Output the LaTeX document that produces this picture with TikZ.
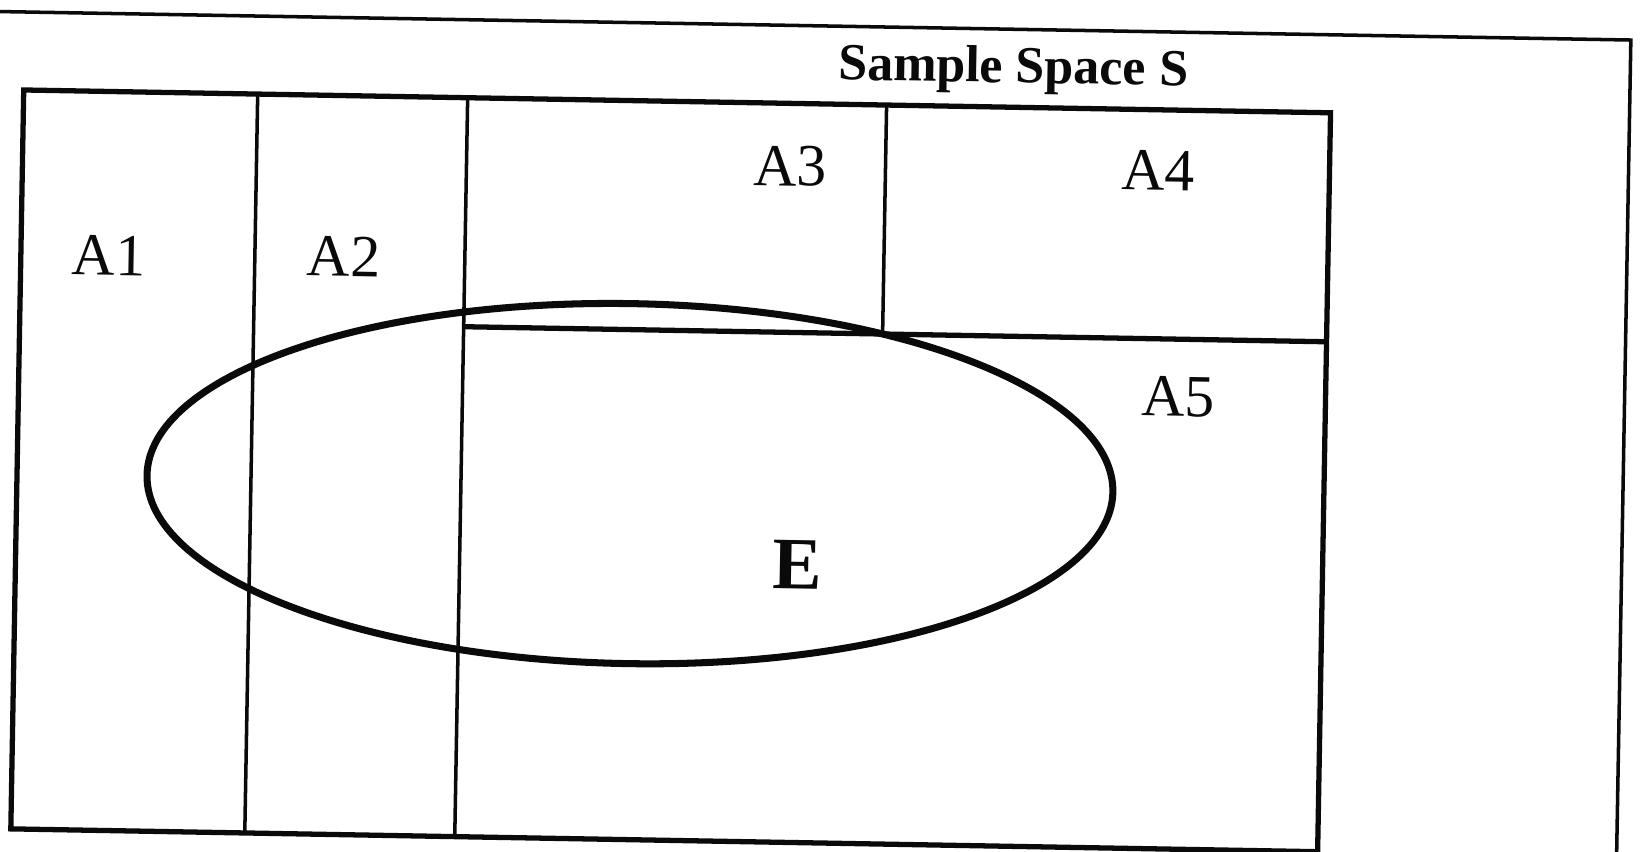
\documentclass[tikz,border=0pt]{standalone}
\usepackage{fontspec}
\setmainfont{Liberation Serif}
\usepackage{tikz}
\definecolor{ScanInk}{HTML}{0A0A0A}

\begin{document}
\begin{tikzpicture}[x=0.01cm,y=-0.01cm,
    frame/.style={draw=ScanInk,line width=1.5pt},
    part/.style={draw=ScanInk,line width=1pt},
    event/.style={draw=ScanInk,line width=2pt},
    lbl/.style={inner sep=0pt,text=ScanInk,font=\fontsize{17}{17}\selectfont}]
  \useasboundingbox[fill=white] (0,0) rectangle (1648,851);
  \begin{scope}[rotate around={-1:(824,425)},transform shape]
    \draw[draw=ScanInk,line width=1pt] (-20,26) -- (1624,26) -- (1624,880);
    \draw[frame] (18,104) rectangle (1325,843);
    \draw[part] (252,104) -- (252,843);
    \draw[part] (462,104) -- (462,843);
    \draw[part] (881,104) -- (881,333);
    \draw[frame] (462,333) -- (1325,333);
    \draw[event] (631,487) ellipse [x radius=483, y radius=180];
    \node[lbl] (a1) at (106,268) {A1};
    \node[lbl] (a2) at (341,265) {A2};
    \node[lbl] (a3) at (786,167) {A3};
    \node[lbl] (a4) at (1154,165) {A4};
    \node[lbl] (a5) at (1178,391) {A5};
    \node[lbl,font=\fontsize{21}{21}\selectfont\bfseries] (e) at (800,565) {E};
    \node[lbl,font=\fontsize{14.8}{15}\selectfont\bfseries] (title) at (1007,67) {Sample Space S};
  \end{scope}
\end{tikzpicture}
\end{document}
